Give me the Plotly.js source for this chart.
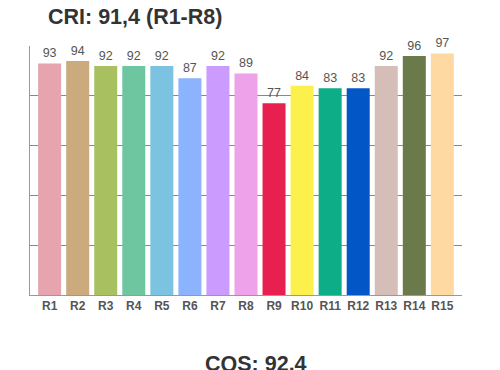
<!DOCTYPE html>
<html><head><meta charset="utf-8">
<script src="https://cdn.plot.ly/plotly-3.0.1.min.js"></script>
<style>html,body{margin:0;padding:0;background:#fff}#c{width:500px;height:370px}</style>
</head><body><div id="c"></div>
<script>
const categories = ["R1","R2","R3","R4","R5","R6","R7","R8","R9","R10","R11","R12","R13","R14","R15"];
const values = [93,94,92,92,92,87,92,89,77,84,83,83,92,96,97];
const barColors = ["#E6A4AE","#CBAA7E","#A9C060","#6DC6A0","#7CC2E1","#8BB3FE","#CB9CFE","#EEA2EA","#E8204F","#FCF04C","#0DAD87","#0256C5","#D5BEB7","#6A7A4B","#FED9A2"];
const titleText = "CRI: 91,4 (R1-R8)";
const bottomText = "CQS: 92.4";

Plotly.newPlot("c", [{
  type: "bar",
  x: categories,
  y: values,
  marker: {color: barColors},
  text: values.map(String),
  textposition: "outside",
  cliponaxis: false,
  textfont: {family: "Liberation Sans, Arial, sans-serif", size: 12.5, color: "#555"},
  hoverinfo: "none"
}], {
  width: 500, height: 370,
  margin: {l: 30, r: 38, t: 46, b: 75},
  paper_bgcolor: "#fff", plot_bgcolor: "#fff",
  bargap: 0.18,
  showlegend: false,
  xaxis: {
    type: "category",
    range: [-0.7, 14.7],
    showline: true, linecolor: "#999", linewidth: 1,
    showgrid: false, ticks: "",
    tickfont: {family: "Liberation Sans, Arial, sans-serif", size: 12, color: "#555", weight: "bold"},
    fixedrange: true
  },
  yaxis: {
    range: [0, 100],
    dtick: 20,
    showline: true, linecolor: "#999", linewidth: 1,
    showgrid: true, gridcolor: "#888", gridwidth: 1,
    showticklabels: false, ticks: "",
    zeroline: false,
    fixedrange: true
  },
  annotations: [
    {text: titleText, xref: "paper", yref: "paper", x: (134.5-30)/432, y: 1, yshift: 29, xanchor: "center", yanchor: "middle", showarrow: false,
     font: {family: "Liberation Sans, Arial, sans-serif", size: 21.5, color: "#333", weight: "bold"}},
    {text: bottomText, xref: "paper", yref: "paper", x: (256-30)/432, y: 0, yshift: -69, xanchor: "center", yanchor: "middle", showarrow: false,
     font: {family: "Liberation Sans, Arial, sans-serif", size: 21.5, color: "#333", weight: "bold"}}
  ]
}, {staticPlot: true});
</script></body></html>
